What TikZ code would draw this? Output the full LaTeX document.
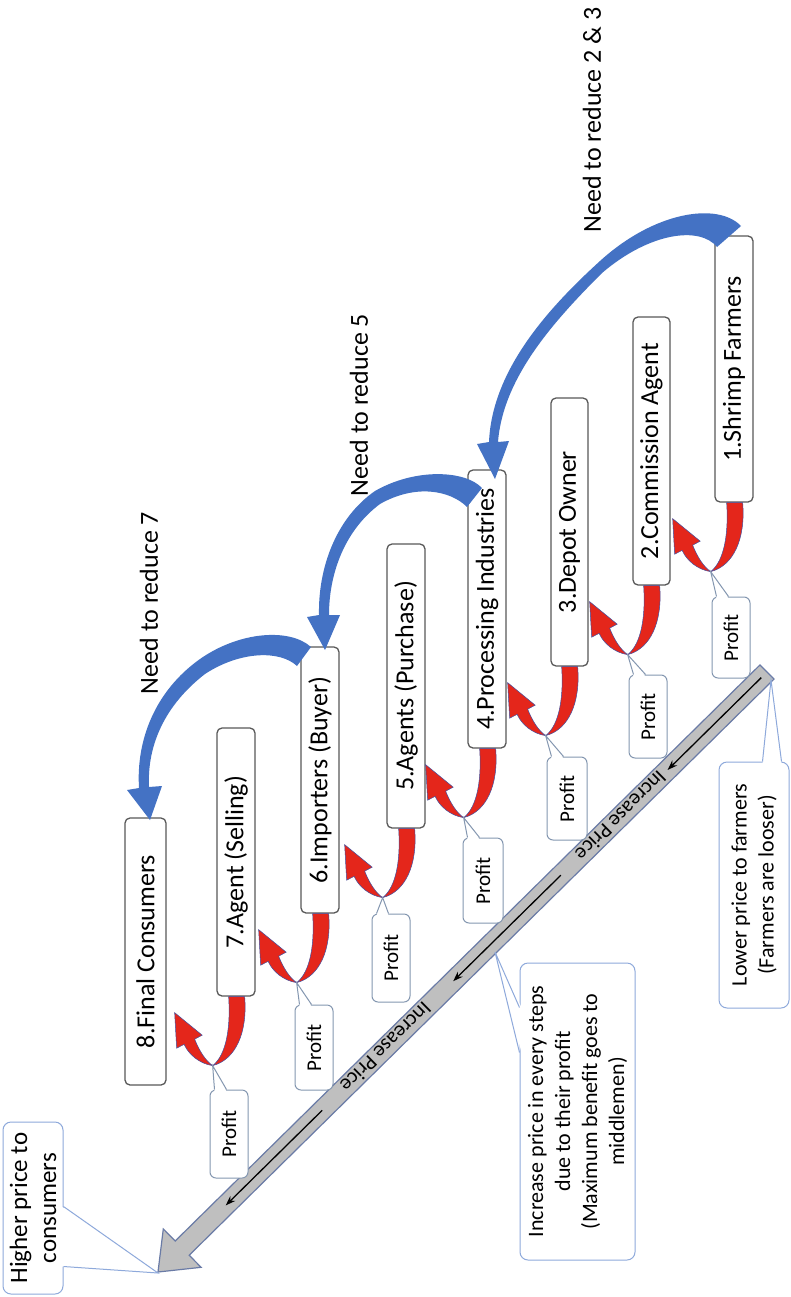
\documentclass[tikz,border=0pt]{standalone}
\usepackage{fontspec}
\setmainfont{Carlito}
\usetikzlibrary{calc,arrows.meta}
\definecolor{redA}{HTML}{E4261B}
\definecolor{redEdge}{HTML}{4050A0}
\definecolor{blueA}{HTML}{4472C4}
\definecolor{barFill}{HTML}{BFBFBF}
\definecolor{barEdge}{HTML}{6A7BA6}
\definecolor{boxEdge}{HTML}{595959}
\definecolor{profEdge}{HTML}{8497B0}
\definecolor{callEdge}{HTML}{8EA9DB}
\begin{document}
\begin{tikzpicture}[x=1pt,y=-1pt,
  stage/.style={draw=boxEdge,line width=1.3pt,rounded corners=5pt,fill=white,rotate=90,inner sep=0pt,font=\fontsize{26}{30}\selectfont},
  profitbox/.style={draw=profEdge,line width=1pt,rounded corners=6pt,fill=white,rotate=90,inner sep=0pt,font=\fontsize{21}{25}\selectfont},
  callout/.style={draw=callEdge,line width=1pt,rounded corners=8pt,fill=white,rotate=90,inner sep=0pt,align=center,font=\fontsize{22}{27}\selectfont},
  needlabel/.style={rotate=90,inner sep=0pt,font=\fontsize{26}{30}\selectfont},
  redarrow/.style={fill=redA,draw=redEdge,line width=0.5pt},
  bluearrow/.style={fill=blueA,draw=none},
  pricetext/.style={rotate=224.6,inner sep=0pt,font=\fontsize{21}{25}\selectfont},
  blackarrow/.style={line width=1.3pt,-{Stealth[length=10pt,width=7pt]}},
  wedgeline/.style={draw=callEdge,line width=1pt},
  profwedge/.style={draw=profEdge,line width=1pt},
]
\fill[white] (0,0) rectangle (790,1297);
\useasboundingbox (0,0) rectangle (790,1297);

% ---------- labels ----------
\node[needlabel] (n1) at (592,120) {Need to reduce 2 \& 3};
\node[needlabel] (n2) at (359,405) {Need to reduce 5};
\node[needlabel] (n3) at (149,603) {Need to reduce 7};

% ---------- gray price bar ----------
\draw[fill=barFill,draw=barEdge,line width=1.2pt]
  (760.0,664.9) -- (175.2,1241.0) -- (163.3,1228.9) -- (158,1272)
  -- (201.1,1267.3) -- (189.2,1255.2) -- (774.0,679.1) -- cycle;
\coordinate (barEnd) at (771,680);
\coordinate (barTip) at (158,1273);
\coordinate (barMid) at (495,952);
\coordinate (blk0) at (761.3,677.6);
\coordinate (blk3) at (225.7,1205.4);
\node[pricetext] (ip1) at (621.0,815.9) {Increase Price};
\node[pricetext] (ip2) at (385.9,1047.5) {Increase Price};
\draw[blackarrow,shorten >=6pt] (blk0) -- (ip1.west);
\draw[blackarrow,shorten <=25pt,shorten >=35pt] (ip1.east) -- (ip2.west);
\draw[blackarrow,shorten <=30pt] (ip2.east) -- (blk3);

% ---------- stage boxes ----------
\node[stage,minimum width=266,minimum height=38] (b1) at (734,369) {1.Shrimp Farmers};
\node[stage,minimum width=268,minimum height=37] (b2) at (651.5,451) {2.Commission Agent};
\node[stage,minimum width=268,minimum height=37] (b3) at (569.5,532) {3.Depot Owner};
\node[stage,minimum width=278,minimum height=38] (b4) at (487,609) {4.Processing Industries};
\node[stage,minimum width=284,minimum height=38] (b5) at (406,686) {5.Agents (Purchase)};
\node[stage,minimum width=266,minimum height=38] (b6) at (320,780) {6.Importers (Buyer)};
\node[stage,minimum width=268,minimum height=38] (b7) at (236,862) {7.Agent (Selling)};
\node[stage,minimum width=267,minimum height=41] (b8) at (145.5,951.5) {8.Final Consumers};

% ---------- red profit arrows ----------
\foreach \k in {1,...,7}{
  \begin{scope}[shift={($(b\k.south west)+(-20,0)$)}]
    \filldraw[redarrow] (-7,0) .. controls (-5,30) and (-9,58) .. (-23,69)
      .. controls (-36,67) and (-47,58) .. (-51.5,47.7) -- (-59,51.5) -- (-61,16)
      -- (-33.5,38.5) -- (-41,42.5)
      .. controls (-36,55) and (-30,64) .. (-23,69)
      .. controls (0,63) and (12,36) .. (9,0) -- cycle;
    \coordinate (t\k) at (-23,69);
  \end{scope}
}

% ---------- profit callouts ----------
\node[profitbox,minimum width=81,minimum height=38] (p1) at (731,637.5) {Profit};
\node[profitbox,minimum width=83,minimum height=38] (p2) at (648,716.5) {Profit};
\node[profitbox,minimum width=83,minimum height=40] (p3) at (567,798.5) {Profit};
\node[profitbox,minimum width=85,minimum height=40] (p4) at (483,880.5) {Profit};
\node[profitbox,minimum width=88,minimum height=38] (p5) at (391,958) {Profit};
\node[profitbox,minimum width=85,minimum height=38] (p6) at (314,1047.5) {Profit};
\node[profitbox,minimum width=88,minimum height=38] (p7) at (229,1134) {Profit};
\foreach \i in {1,...,7}{
  \fill[white] ($(p\i.north east)+(5,2)$) -- (t\i) -- ($(p\i.north east)+(17,2)$) -- cycle;
  \draw[profwedge] ($(p\i.north east)+(5,0)$) -- (t\i) -- ($(p\i.north east)+(17,0)$);
}

% ---------- blue "need to reduce" arrows ----------
\fill[bluearrow] (741,226) .. controls (718,202) and (655,211) .. (600,261)
  .. controls (545,311) and (492,372) .. (489,442) -- (477,444) -- (495,479) -- (509,441) -- (498,442)
  .. controls (503,378) and (553,322) .. (602,273)
  .. controls (650,232) and (700,226) .. (717,247) -- cycle;
\fill[bluearrow] (482,488) .. controls (465,470) and (415,468) .. (375,491)
  .. controls (336,518) and (318,568) .. (319,615) -- (307,617) -- (325,650) -- (340,615) -- (329,615)
  .. controls (329,573) and (345,530) .. (380,504)
  .. controls (415,484) and (450,490) .. (467,507) -- cycle;
\fill[bluearrow] (311,647) .. controls (290,628) and (240,631) .. (200,659)
  .. controls (155,691) and (136,740) .. (139,788) -- (127,790) -- (150,820) -- (162,786) -- (149,787)
  .. controls (147,745) and (165,705) .. (205,674)
  .. controls (240,651) and (280,650) .. (297,666) -- cycle;

% ---------- text callouts ----------
\node[callout,minimum width=246,minimum height=70] (c1) at (754,885)
  {Lower price to farmers\\(Farmers are looser)};
\fill[white] ($(c1.north east)+(44,2)$) -- (barEnd) -- ($(c1.north east)+(63,2)$) -- cycle;
\draw[wedgeline] ($(c1.north east)+(44,0)$) -- (barEnd) -- ($(c1.north east)+(63,0)$);

\node[callout,minimum width=297,minimum height=115] (c2) at (577.5,1111.5)
  {Increase price in every steps\\due to their profit\\(Maximum benefit goes to\\middlemen)};
\fill[white] ($(c2.north east)+(2,45)$) -- (barMid) -- ($(c2.north east)+(2,90)$) -- cycle;
\draw[wedgeline] ($(c2.north east)+(0,45)$) -- (barMid) -- ($(c2.north east)+(0,90)$);

\node[callout,minimum width=172,minimum height=60,font=\fontsize{25}{29}\selectfont] (c3) at (33,1208)
  {Higher price to\\consumers};
\fill[white] ($(c3.south east)+(-2,85)$) -- (barTip) -- ($(c3.south east)+(-2,145)$) -- cycle;
\draw[wedgeline] ($(c3.south east)+(0,85)$) -- (barTip) -- ($(c3.south east)+(0,145)$);
\end{tikzpicture}
\end{document}
